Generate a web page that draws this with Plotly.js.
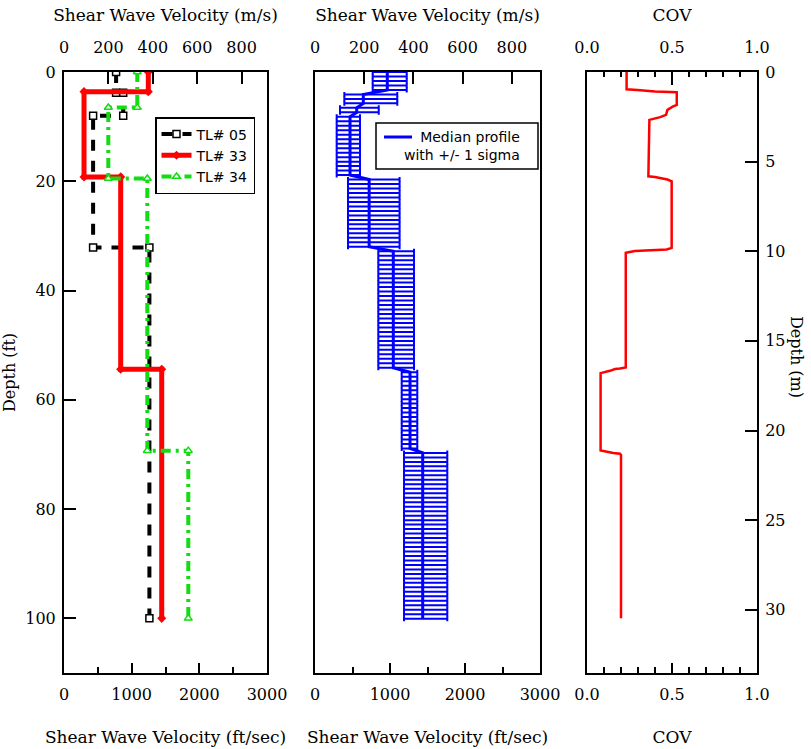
<!DOCTYPE html>
<html>
<head>
<meta charset="utf-8">
<script src="https://cdn.plot.ly/plotly-3.0.1.min.js"></script>
<style>
  html, body { margin: 0; padding: 0; background: #fff; }
  #chart { width: 811px; height: 749px; }
</style>
</head>
<body>
<div id="chart"></div>
<script>
// ---- Individual site profiles: depth (ft) and Vs (ft/s) at each layer corner ----
const tl05Depth = [0, 3.8, 3.8, 8.0, 8.0, 32.1, 32.1, 100];
const tl05Vs    = [770, 770, 875, 875, 430, 430, 1262, 1262];

const tl33Depth = [0, 3.6, 3.6, 19.2, 19.2, 54.4, 54.4, 100];
const tl33Vs    = [1246, 1246, 296, 296, 838, 838, 1444, 1444];

const tl34Depth = [0, 6.5, 6.5, 19.5, 19.5, 69.3, 69.3, 100];
const tl34Vs    = [1083, 1083, 655, 655, 1231, 1231, 1837, 1837];

// ---- Median profile layers (ft, ft/s) with -1 / +1 sigma bounds ----
const layerTopFt = [0, 3.6, 6.3, 7.8, 19.2, 32.6, 54.4, 69.4];
const medianVs   = [964, 644, 556, 467, 722, 1044, 1267, 1436];
const lowerVs    = [769, 391, 333, 289, 440, 844, 1156, 1187];
const upperVs    = [1223, 1097, 850, 600, 1128, 1320, 1364, 1764];
const sampleStepM = 0.25;   // profile sampled every 0.25 m
const sampleMaxM  = 30.5;

// ---- Coefficient of variation vs depth (m) ----
const covDepthM = [0, 0.96, 1.0, 1.09, 1.13, 1.84, 1.93, 2.11, 2.39, 2.52, 2.67,
                   5.82, 5.86, 6.0, 6.1, 9.81, 9.9, 9.96, 9.99, 10.09,
                   16.48, 16.54, 16.57, 16.67, 16.76, 16.8,
                   21.12, 21.21, 21.26, 21.3, 21.36, 30.48];
const covValue  = [0.233, 0.233, 0.296, 0.40, 0.528, 0.528, 0.504, 0.473, 0.465, 0.43, 0.367,
                   0.361, 0.40, 0.473, 0.498, 0.498, 0.469, 0.361, 0.282, 0.228,
                   0.228, 0.194, 0.165, 0.135, 0.086, 0.08,
                   0.08, 0.125, 0.155, 0.194, 0.2, 0.2];

const FT_PER_M = 3.28084;
const MAX_DEPTH_FT = 110;
const MAX_VS_FTS = 3000;

// Build the sampled median profile from the layer table
const medDepth = [], medVs = [], errPlus = [], errMinus = [];
for (let i = 0; i * sampleStepM <= sampleMaxM + 1e-9; i++) {
  const dFt = i * sampleStepM * FT_PER_M;
  let k = 0;
  for (let j = 0; j < layerTopFt.length; j++) if (dFt >= layerTopFt[j]) k = j;
  medDepth.push(dFt);
  medVs.push(medianVs[k]);
  errPlus.push(upperVs[k] - medianVs[k]);
  errMinus.push(medianVs[k] - lowerVs[k]);
}

// Plot area geometry (px) -> paper fractions
const L = 64, R = 757, T = 72, B = 673;
const W = R - L, H = B - T;
const fx = px => (px - L) / W;
const fy = py => 1 - (py - T) / H;
const dom1 = [fx(64), fx(267)];
const dom2 = [fx(315), fx(540)];
const dom3 = [fx(587), fx(757)];

const serif = 'DejaVu Serif, serif';
const sans = 'DejaVu Sans, sans-serif';
const tickFont = {family: serif, size: 16, color: 'black'};
const titleFont = {family: serif, size: 17, color: 'black'};

const base = {
  showline: true, linecolor: 'black', linewidth: 2,
  ticks: 'inside', tickcolor: 'black', tickwidth: 2,
  showgrid: false, zeroline: false, tickfont: tickFont, fixedrange: true,
  automargin: false
};

const traces = [
  {
    x: tl05Vs, y: tl05Depth, xaxis: 'x', yaxis: 'y', name: 'TL# 05',
    mode: 'lines+markers',
    line: {color: 'black', width: 4, dash: '11px,10px'},
    marker: {symbol: 'square', size: 7, color: 'white', line: {color: 'black', width: 1.5}}
  },
  {
    x: tl33Vs, y: tl33Depth, xaxis: 'x', yaxis: 'y', name: 'TL# 33',
    mode: 'lines+markers',
    line: {color: '#ff0000', width: 5},
    marker: {symbol: 'diamond', size: 7, color: '#ff0000'}
  },
  {
    x: tl34Vs, y: tl34Depth, xaxis: 'x', yaxis: 'y', name: 'TL# 34',
    mode: 'lines+markers',
    line: {color: '#11dd11', width: 4, dash: '10px,5px,3px,5px'},
    marker: {symbol: 'triangle-up', size: 7, color: 'white', line: {color: '#11dd11', width: 1.5}}
  },
  {
    x: medVs, y: medDepth, xaxis: 'x2', yaxis: 'y2', name: 'Median profile',
    mode: 'lines', showlegend: false,
    line: {color: '#0000ff', width: 3},
    error_x: {type: 'data', symmetric: false, array: errPlus, arrayminus: errMinus,
              color: '#0000ff', thickness: 2, width: 2.5}
  },
  {
    x: covValue, y: covDepthM, xaxis: 'x3', yaxis: 'y3', name: 'COV',
    mode: 'lines', showlegend: false,
    line: {color: '#ff0000', width: 2.5}
  },
  // top (secondary) axes
  {x: [], y: [], xaxis: 'x4', yaxis: 'y', showlegend: false, hoverinfo: 'skip'},
  {x: [], y: [], xaxis: 'x5', yaxis: 'y2', showlegend: false, hoverinfo: 'skip'},
  {x: [], y: [], xaxis: 'x6', yaxis: 'y3', showlegend: false, hoverinfo: 'skip'}
];

const ftTitle = 'Shear Wave Velocity (ft/sec)';
const mTitle = 'Shear Wave Velocity (m/s)';
const bottomStandoff = 28;
const topStandoff = 12;
const topLabelStandoff = 11;

const layout = {
  width: 811, height: 749,
  margin: {l: L, r: 811 - R, t: T, b: 749 - B, pad: 0},
  paper_bgcolor: 'white', plot_bgcolor: 'white',
  showlegend: true,
  font: {family: serif, color: 'black'},
  xaxis: Object.assign({}, base, {
    domain: dom1, anchor: 'y', range: [0, MAX_VS_FTS], tick0: 0, dtick: 1000, ticklen: 10,
    minor: {dtick: 500, ticklen: 6, ticks: 'inside', tickwidth: 2, tickcolor: 'black'},
    mirror: true, ticklabelstandoff: 6,
    title: {text: ftTitle, font: titleFont, standoff: bottomStandoff}
  }),
  xaxis2: Object.assign({}, base, {
    domain: dom2, anchor: 'y2', range: [0, MAX_VS_FTS], tick0: 0, dtick: 1000, ticklen: 10,
    minor: {dtick: 500, ticklen: 6, ticks: 'inside', tickwidth: 2, tickcolor: 'black'},
    mirror: true, ticklabelstandoff: 6,
    title: {text: ftTitle, font: titleFont, standoff: bottomStandoff}
  }),
  xaxis3: Object.assign({}, base, {
    domain: dom3, anchor: 'y3', range: [0, 1], tick0: 0, dtick: 0.5, ticklen: 10,
    tickformat: '.1f',
    minor: {dtick: 0.1, ticklen: 6, ticks: 'inside', tickwidth: 2, tickcolor: 'black'},
    mirror: true, ticklabelstandoff: 6,
    title: {text: 'COV', font: titleFont, standoff: bottomStandoff}
  }),
  xaxis4: Object.assign({}, base, {
    overlaying: 'x', side: 'top', anchor: 'y', range: [0, MAX_VS_FTS * 0.3048],
    tick0: 0, dtick: 200, ticklen: 12, ticklabelstandoff: topLabelStandoff,
    title: {text: mTitle, font: titleFont, standoff: topStandoff}
  }),
  xaxis5: Object.assign({}, base, {
    overlaying: 'x2', side: 'top', anchor: 'y2', range: [0, MAX_VS_FTS * 0.3048],
    tick0: 0, dtick: 200, ticklen: 12, ticklabelstandoff: topLabelStandoff,
    title: {text: mTitle, font: titleFont, standoff: topStandoff}
  }),
  xaxis6: Object.assign({}, base, {
    overlaying: 'x3', side: 'top', anchor: 'y3', range: [0, 1],
    tick0: 0, dtick: 0.5, ticklen: 13, tickformat: '.1f', ticklabelstandoff: topLabelStandoff,
    minor: {dtick: 0.1, ticklen: 5, ticks: 'inside', tickwidth: 2, tickcolor: 'black'},
    title: {text: 'COV', font: titleFont, standoff: topStandoff}
  }),
  yaxis: Object.assign({}, base, {
    domain: [0, 1], anchor: 'x', range: [MAX_DEPTH_FT, 0], tick0: 0, dtick: 20, ticklen: 12,
    mirror: true, ticklabelstandoff: 3,
    title: {text: 'Depth (ft)', font: {family: serif, size: 16, color: 'black'}, standoff: 18}
  }),
  yaxis2: Object.assign({}, base, {
    domain: [0, 1], anchor: 'x2', range: [MAX_DEPTH_FT, 0],
    ticks: '', showticklabels: false, mirror: true
  }),
  yaxis3: Object.assign({}, base, {
    domain: [0, 1], anchor: 'x3', side: 'right', range: [MAX_DEPTH_FT / FT_PER_M, 0],
    tick0: 0, dtick: 5, ticklen: 12, mirror: true, ticklabelstandoff: 3
  }),
  legend: {
    x: fx(155), y: fy(117), xanchor: 'left', yanchor: 'top',
    bgcolor: 'white', bordercolor: 'black', borderwidth: 1.5,
    font: {family: sans, size: 14, color: 'black'},
    tracegroupgap: 0, itemwidth: 30
  },
  shapes: [
    // median-profile key box
    {type: 'rect', xref: 'paper', yref: 'paper', x0: fx(376), x1: fx(538), y0: fy(169), y1: fy(123),
     line: {color: 'black', width: 1.5}, fillcolor: 'white', layer: 'above'},
    {type: 'line', xref: 'paper', yref: 'paper', x0: fx(384), x1: fx(412), y0: fy(137), y1: fy(137),
     line: {color: '#0000ff', width: 3}, layer: 'above'}
  ],
  annotations: [
    {xref: 'paper', yref: 'paper', x: fx(522), y: fy(146), xanchor: 'right', yanchor: 'middle',
     align: 'right', showarrow: false,
     text: 'Median profile<br>with +/- 1 sigma',
     font: {family: sans, size: 14, color: 'black'}},
    {xref: 'paper', yref: 'paper', x: fx(797), y: fy(357), xanchor: 'center', yanchor: 'middle',
     showarrow: false, textangle: 90, text: 'Depth (m)',
     font: {family: serif, size: 16, color: 'black'}}
  ]
};

Plotly.newPlot('chart', traces, layout, {staticPlot: true, displayModeBar: false});
</script>
</body>
</html>
